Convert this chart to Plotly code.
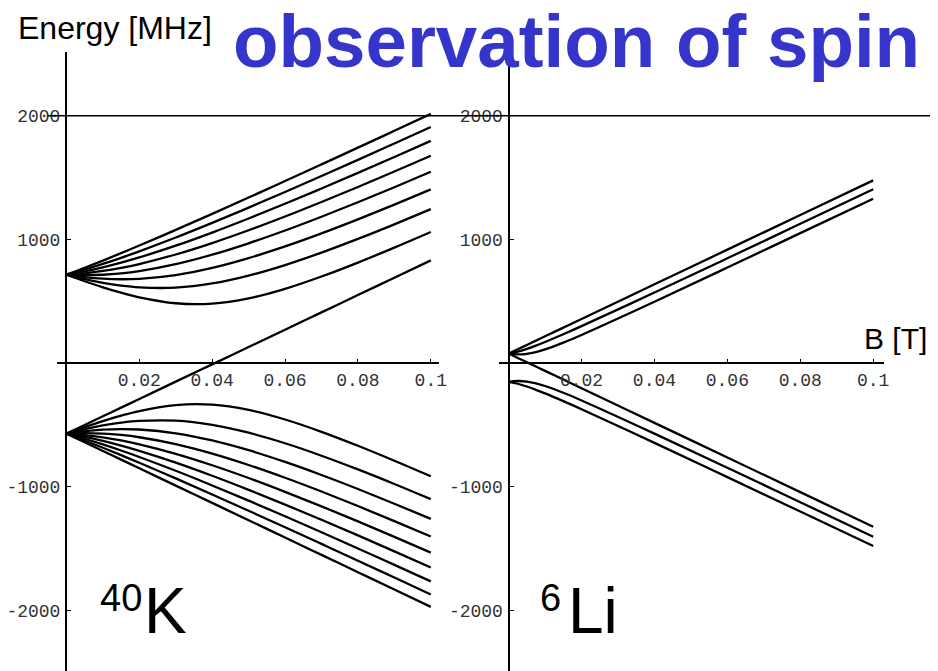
import plotly.graph_objects as go

# Field values (tesla) at which the level energies are tabulated
b_k = [0, 0.005, 0.01, 0.015, 0.02, 0.03, 0.04, 0.05, 0.06, 0.07, 0.08, 0.09, 0.1]
b_li = [0, 0.0025, 0.005, 0.0075, 0.01, 0.015, 0.02, 0.04, 0.06, 0.08, 0.1]

# 40K hyperfine levels [MHz]: upper manifold (F=7/2)
k_upper = [
    [714.3, 770.2, 828.4, 888.6, 950.1, 1076.7, 1206.4, 1338.3, 1471.9, 1606.6, 1742.2, 1878.5, 2015.4],
    [714.3, 755.7, 801.5, 850.9, 903.3, 1015.0, 1133.5, 1256.7, 1383.3, 1512.4, 1643.4, 1775.9, 1909.5],
    [714.3, 740.9, 773.6, 811.4, 853.7, 949.0, 1055.2, 1169.0, 1288.3, 1411.6, 1538.0, 1666.6, 1797.1],
    [714.3, 725.8, 744.4, 769.6, 800.7, 877.7, 970.1, 1073.6, 1185.1, 1302.6, 1424.3, 1549.3, 1676.9],
    [714.3, 710.3, 714.0, 725.2, 743.6, 799.5, 876.1, 968.2, 1071.6, 1183.0, 1300.3, 1422.0, 1547.0],
    [714.3, 694.5, 682.1, 677.6, 681.1, 711.7, 769.5, 848.6, 943.2, 1048.8, 1162.2, 1281.3, 1404.4],
    [714.3, 678.2, 648.3, 625.8, 611.5, 609.7, 643.4, 706.9, 792.3, 893.0, 1003.9, 1121.8, 1244.6],
    [714.3, 661.5, 612.5, 568.7, 531.4, 483.3, 480.0, 522.6, 600.0, 699.6, 812.4, 933.3, 1059.3],
]
# 40K lower manifold (F=9/2), first entry is the stretched state rising linearly
k_lower = [
    [-571.5, -501.4, -431.4, -361.3, -291.2, -151.1, -11.0, 129.3, 269.4, 409.6, 549.7, 689.9, 830.0],
    [-571.5, -518.7, -469.7, -425.9, -388.6, -340.5, -337.2, -379.8, -457.2, -556.8, -669.6, -790.5, -916.5],
    [-571.5, -535.4, -505.5, -483.0, -468.7, -466.9, -500.6, -564.1, -649.5, -750.2, -861.1, -979.0, -1101.8],
    [-571.5, -551.7, -539.3, -534.8, -538.3, -568.9, -626.7, -705.8, -800.4, -906.0, -1019.4, -1138.5, -1261.6],
    [-571.5, -567.5, -571.2, -582.4, -600.8, -656.7, -733.3, -825.4, -928.8, -1040.2, -1157.5, -1279.2, -1404.2],
    [-571.5, -583.0, -601.6, -626.8, -657.9, -734.9, -827.3, -930.8, -1042.3, -1159.8, -1281.5, -1406.5, -1534.1],
    [-571.5, -598.1, -630.8, -668.6, -710.9, -806.2, -912.4, -1026.2, -1145.5, -1268.8, -1395.2, -1523.8, -1654.3],
    [-571.5, -612.9, -658.7, -708.1, -760.5, -872.2, -990.7, -1113.9, -1240.5, -1369.6, -1500.6, -1633.1, -1766.7],
    [-571.5, -627.4, -685.6, -745.8, -807.4, -933.9, -1063.6, -1195.5, -1329.1, -1463.8, -1599.4, -1735.7, -1872.6],
    [-571.5, -641.6, -711.6, -781.7, -851.8, -992.0, -1132.1, -1272.3, -1412.4, -1552.6, -1692.7, -1832.9, -1973.0],
]

# 6Li hyperfine levels [MHz]
li_levels = [
    [76.1, 111.1, 146.1, 181.2, 216.2, 286.3, 356.3, 636.6, 916.8, 1197.1, 1477.3],
    [76.1, 92.0, 114.5, 141.0, 170.1, 232.5, 297.9, 570.1, 847.3, 1126.0, 1405.3],
    [76.1, 69.6, 74.2, 88.7, 110.3, 165.0, 227.0, 495.4, 771.9, 1050.3, 1329.4],
    [76.1, 41.0, 6.0, -29.0, -64.1, -134.1, -204.2, -484.4, -764.7, -1044.9, -1325.2],
    [-152.1, -145.7, -150.3, -164.8, -186.3, -241.0, -303.1, -571.5, -847.9, -1126.3, -1405.5],
    [-152.1, -168.1, -190.5, -217.1, -246.2, -308.6, -374.0, -646.2, -923.4, -1202.1, -1481.3],
]

x_tickvals = [0.02, 0.04, 0.06, 0.08, 0.1]
x_ticktext = ["0.02", "0.04", "0.06", "0.08", "0.1"]
y_tickvals = [-2000, -1000, 1000, 2000]
y_ticktext = ["-2000", "-1000", "1000", "2000"]

W, H = 938, 671
LINE = dict(color="black", width=2.3)

fig = go.Figure()
for ys in k_upper + k_lower:
    fig.add_trace(go.Scatter(x=b_k, y=ys, mode="lines", line=dict(shape="spline", **LINE),
                             xaxis="x", yaxis="y", showlegend=False, hoverinfo="skip"))
for ys in li_levels:
    fig.add_trace(go.Scatter(x=b_li, y=ys, mode="lines", line=dict(shape="spline", **LINE),
                             xaxis="x2", yaxis="y2", showlegend=False, hoverinfo="skip"))

yrange = [-2492, 2516]
ydom = [0, (H - 52) / H]
zero_pos = (H - 363) / H
tickfont = dict(family="Liberation Mono", size=18, color="#333333")

common_x = dict(anchor="free", position=zero_pos, showgrid=False, showline=False,
                zeroline=True, zerolinecolor="black", zerolinewidth=2,
                ticks="inside", ticklen=4, tickwidth=1, tickcolor="black",
                tickvals=x_tickvals, ticktext=x_ticktext, tickfont=tickfont,
                ticklabelstandoff=4)
common_y = dict(domain=ydom, range=yrange, showgrid=False, showline=False,
                zeroline=True, zerolinecolor="black", zerolinewidth=2,
                ticks="inside", ticklen=4, tickwidth=1, tickcolor="black",
                tickvals=y_tickvals, ticktext=y_ticktext, tickfont=tickfont,
                ticklabelstandoff=6)

fig.update_layout(
    width=W, height=H,
    margin=dict(l=0, r=0, t=0, b=0),
    paper_bgcolor="white", plot_bgcolor="rgba(0,0,0,0)",
    xaxis=dict(domain=[57 / W, 443 / W], range=[-0.00272, 0.10231], **common_x),
    yaxis=dict(anchor="free", position=67 / W, **common_y),
    xaxis2=dict(domain=[503 / W, 892 / W], range=[-0.00272, 0.10307], **common_x),
    yaxis2=dict(anchor="free", position=513.3 / W, **common_y),
    shapes=[dict(type="line", xref="paper", yref="y", x0=48 / W, x1=1, y0=2000, y1=2000,
                 line=dict(color="black", width=1.5))],
)

def label(text, x_px, y_px, size, color="black", bold=False):
    fig.add_annotation(
        text=f"<b>{text}</b>" if bold else text,
        xref="paper", yref="paper", x=x_px / W, y=1 - y_px / H,
        xanchor="left", yanchor="middle", showarrow=False,
        font=dict(family="Liberation Sans", size=size, color=color),
    )

label("Energy [MHz]", 16, 28, 32)
label("observation of spin", 233, 41, 74.5, color="#3535cc", bold=True)
label("B [T]", 869, 338, 30)
label("40", 99, 598, 38)
label("K", 143, 611, 64)
label("6", 543, 598, 38)
label("Li", 571, 611, 64)

fig.write_html("out.html")
